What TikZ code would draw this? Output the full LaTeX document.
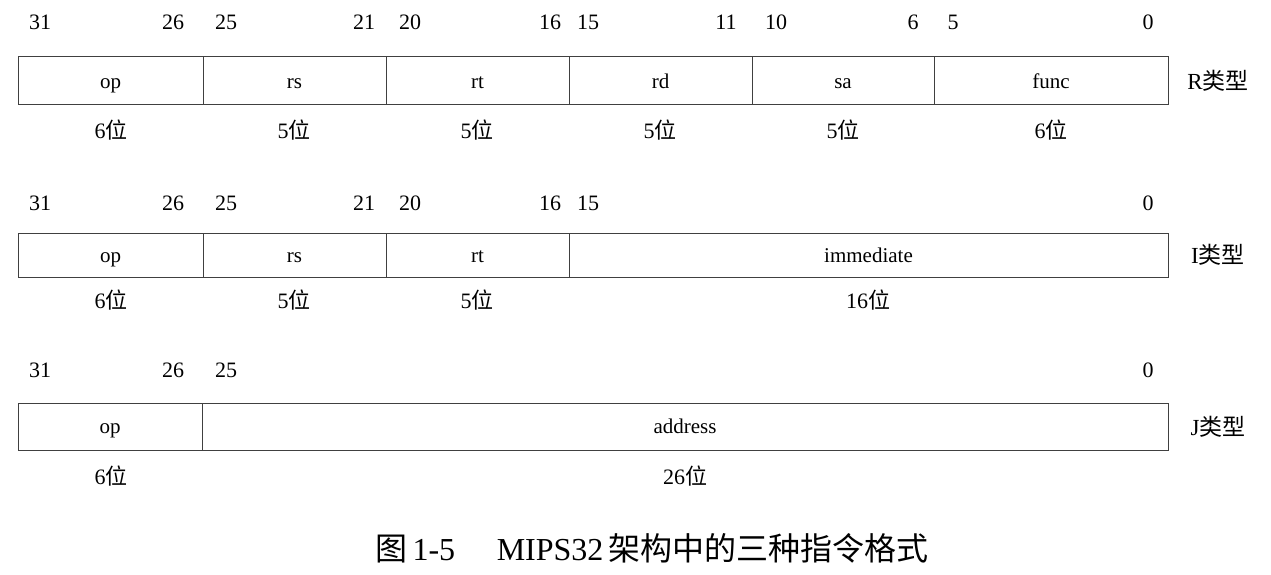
\documentclass[tikz,border=0pt]{standalone}
\usepackage{fontspec}
\setmainfont{Liberation Serif}
\newfontfamily\cjk{Noto Sans CJK SC}
\newcommand{\wei}{{\cjk 位}}
\begin{document}
\begin{tikzpicture}[x=1pt,y=-1pt,
  field/.style={draw=black!75, line width=1pt, rectangle, inner sep=0pt, font=\fontsize{21}{23}\selectfont},
  bitnum/.style={font=\fontsize{22}{24}\selectfont, inner sep=0pt},
  width/.style={font=\fontsize{22}{24}\selectfont, inner sep=0pt},
  kind/.style={font=\fontsize{23}{25}\selectfont, inner sep=0pt},
  caption/.style={font=\fontsize{32}{35}\selectfont, inner sep=0pt}]
\useasboundingbox (0,0) rectangle (1271,575);
% field macro: \fld{name}{left}{right}{top}{bottom}{text}
\newcommand{\fld}[6]{\node[field, minimum width={#3-#2}, minimum height={#5-#4}] (#1) at ({(#2+#3)/2},{(#4+#5)/2}) {};
  \node[font=\fontsize{21}{23}\selectfont, inner sep=0pt] at ([yshift=-2pt]#1.center) {\vphantom{dfp}#6};}
% ---------- R type ----------
\foreach \t/\x in {31/40,26/173,25/226,21/364,20/410,16/550,15/588,11/726,10/776,6/913,5/953,0/1148}
  \node[bitnum] (rb\t) at (\x,22) {\t};
\fld{rop}{18}{203}{57}{105}{op}
\fld{rrs}{203}{386}{57}{105}{rs}
\fld{rrt}{386}{569}{57}{105}{rt}
\fld{rrd}{569}{752}{57}{105}{rd}
\fld{rsa}{752}{934}{57}{105}{sa}
\fld{rfn}{934}{1168}{57}{105}{func}
\node[kind] (rk) at (1218,81) {R{\cjk 类型}};
\node[width] (rw1) at (111,130) {6\wei};
\node[width] (rw2) at (294,130) {5\wei};
\node[width] (rw3) at (477,130) {5\wei};
\node[width] (rw4) at (660,130) {5\wei};
\node[width] (rw5) at (843,130) {5\wei};
\node[width] (rw6) at (1051,130) {6\wei};
% ---------- I type ----------
\foreach \t/\x in {31/40,26/173,25/226,21/364,20/410,16/550,15/588,0/1148}
  \node[bitnum] (ib\t) at (\x,203) {\t};
\fld{iop}{18}{203}{233}{277}{op}
\fld{irs}{203}{386}{233}{277}{rs}
\fld{irt}{386}{569}{233}{277}{rt}
\fld{iim}{569}{1168}{233}{277}{immediate}
\node[kind] (ik) at (1218,255) {I{\cjk 类型}};
\node[width] (iw1) at (111,300) {6\wei};
\node[width] (iw2) at (294,300) {5\wei};
\node[width] (iw3) at (477,300) {5\wei};
\node[width] (iw4) at (868,300) {16\wei};
% ---------- J type ----------
\foreach \t/\x in {31/40,26/173,25/226,0/1148}
  \node[bitnum] (jb\t) at (\x,370) {\t};
\fld{jop}{18}{202}{403}{450}{op}
\fld{jad}{202}{1168}{403}{450}{address}
\node[kind] (jk) at (1218,427) {J{\cjk 类型}};
\node[width] (jw1) at (111,476) {6\wei};
\node[width] (jw2) at (685,476) {26\wei};
% ---------- caption ----------
\node[caption] (cap) at (652,548) {{\cjk 图}\,1-5\hspace{1.3em}MIPS32\,{\cjk 架构中的三种指令格式}};
\end{tikzpicture}
\end{document}
